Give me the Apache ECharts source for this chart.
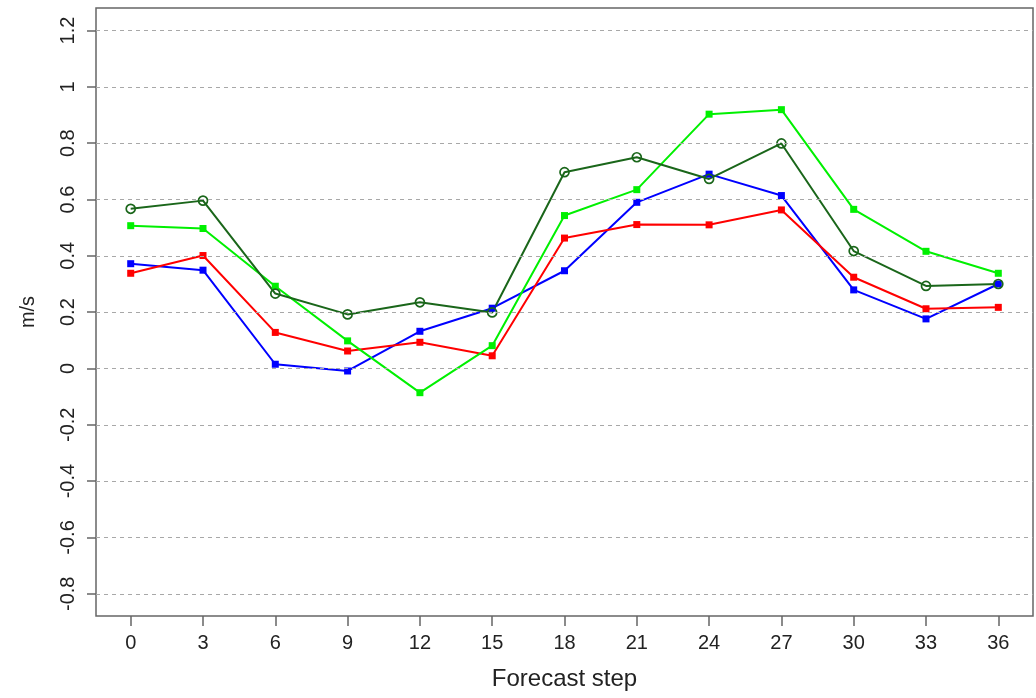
<!DOCTYPE html>
<html>
<head>
<meta charset="utf-8">
<script src="https://cdn.jsdelivr.net/npm/echarts@6/dist/echarts.min.js"></script>
<style>html,body{margin:0;padding:0;background:#fff}#c{width:1036px;height:698px}</style>
</head>
<body>
<div id="c"></div>
<script>
var steps = [0, 3, 6, 9, 12, 15, 18, 21, 24, 27, 30, 33, 36];
var yTicks = [-0.8, -0.6, -0.4, -0.2, 0, 0.2, 0.4, 0.6, 0.8, 1, 1.2];
var blueVals = [0.372, 0.349, 0.015, -0.009, 0.132, 0.214, 0.347, 0.590, 0.690, 0.614, 0.279, 0.176, 0.300];
var redVals = [0.338, 0.401, 0.128, 0.062, 0.093, 0.045, 0.463, 0.511, 0.510, 0.563, 0.324, 0.212, 0.217];
var greenVals = [0.507, 0.497, 0.292, 0.098, -0.086, 0.081, 0.543, 0.635, 0.903, 0.919, 0.565, 0.416, 0.338];
var darkGreenVals = [0.567, 0.596, 0.266, 0.192, 0.235, 0.199, 0.697, 0.750, 0.673, 0.799, 0.417, 0.293, 0.300];

function pairs(vals) { return steps.map(function (s, i) { return [s, vals[i]]; }); }

var font = 'Liberation Sans, Arial, sans-serif';
var chart = echarts.init(document.getElementById('c'), null, { renderer: 'canvas' });

function lineSeries(name, vals, color, symbol, size, hollow) {
  return {
    name: name, type: 'line', data: pairs(vals),
    symbol: symbol, symbolSize: size, showSymbol: true,
    lineStyle: { color: color, width: 2 },
    itemStyle: hollow
      ? { color: 'rgba(0,0,0,0)', borderColor: color, borderWidth: 1.7 }
      : { color: color, borderColor: color, borderWidth: 0 },
    emphasis: { disabled: true },
    animation: false, z: 3
  };
}

chart.setOption({
  animation: false,
  backgroundColor: '#fff',
  grid: { left: 96, right: 3, top: 8, bottom: 82, show: true, borderColor: '#666', borderWidth: 1.5, backgroundColor: 'transparent' },
  xAxis: {
    type: 'value', min: -1.44, max: 37.44,
    name: 'Forecast step', nameLocation: 'middle', nameGap: 51,
    nameTextStyle: { fontFamily: font, fontSize: 24, color: '#222' },
    axisLine: { show: false, onZero: false },
    axisTick: { show: true, inside: false, length: 10, customValues: steps, lineStyle: { color: '#666', width: 1.5 } },
    axisLabel: { show: true, customValues: steps, margin: 17, fontFamily: font, fontSize: 20, color: '#222' },
    splitLine: { show: false }
  },
  yAxis: {
    type: 'value', min: -0.879, max: 1.28,
    name: 'm/s', nameLocation: 'middle', nameGap: 58, nameRotate: 90,
    nameTextStyle: { fontFamily: font, fontSize: 20, color: '#222' },
    axisLine: { show: false, onZero: false },
    axisTick: { show: true, inside: false, length: 9, customValues: yTicks, lineStyle: { color: '#666', width: 1.5 } },
    axisLabel: { show: true, customValues: yTicks, rotate: 90, margin: 18, fontFamily: font, fontSize: 20, color: '#222' },
    splitLine: { show: false }
  },
  series: [
    {
      name: 'grid', type: 'line', data: [], z: 1, silent: true,
      markLine: {
        silent: true, symbol: ['none', 'none'], animation: false,
        label: { show: false },
        lineStyle: { color: '#a8a8a8', type: [4, 4], width: 1 },
        data: yTicks.map(function (v) { return { yAxis: v }; })
      }
    },
    lineSeries('blue', blueVals, '#0000ff', 'rect', 7, false),
    lineSeries('red', redVals, '#ff0000', 'rect', 7, false),
    lineSeries('green', greenVals, '#00f000', 'rect', 7, false),
    lineSeries('darkgreen', darkGreenVals, '#1a661a', 'circle', 9, true)
  ]
});
</script>
</body>
</html>
